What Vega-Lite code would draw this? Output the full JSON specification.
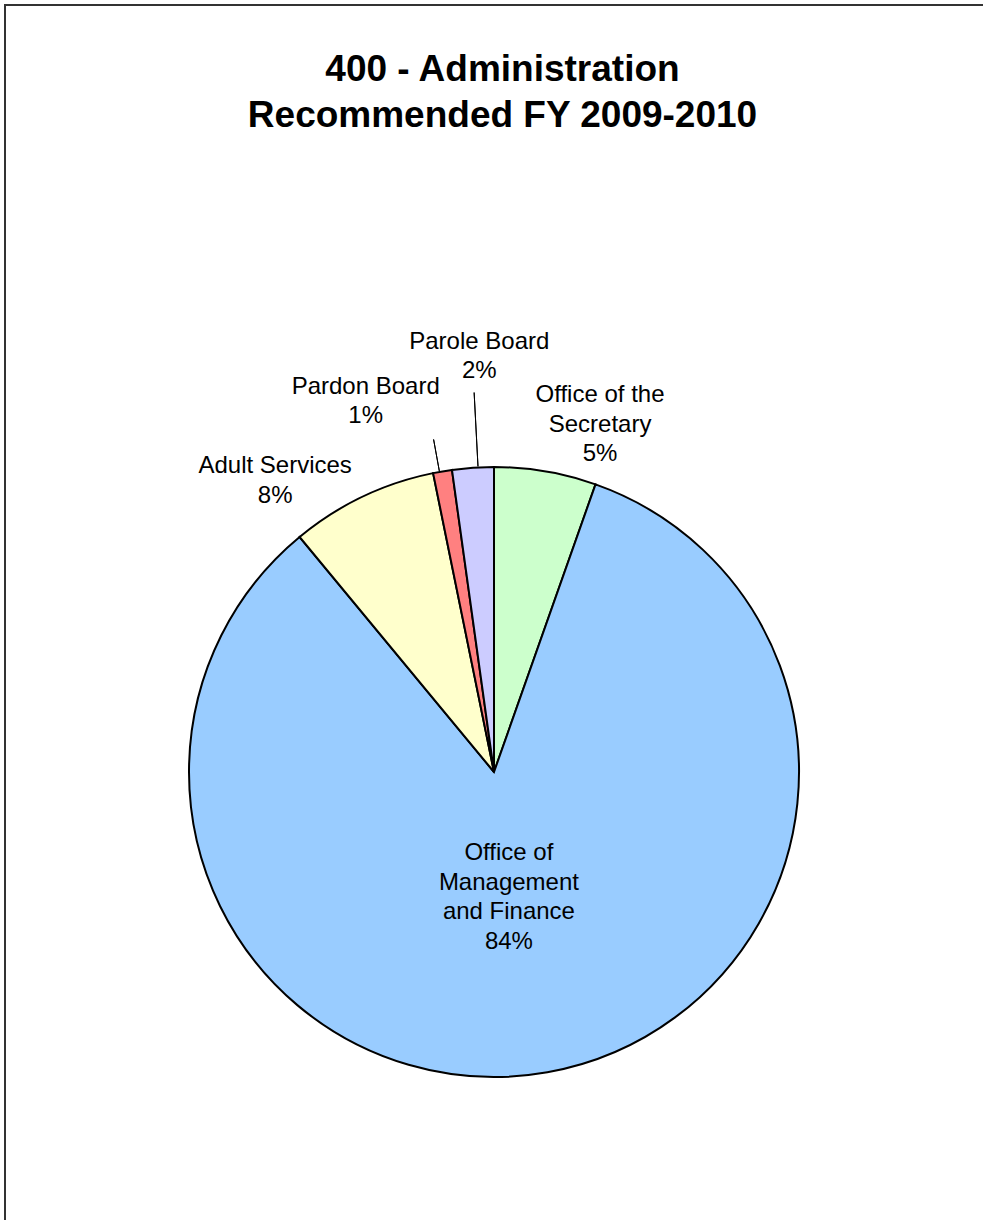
{
  "$schema": "https://vega.github.io/schema/vega-lite/v6.json",
  "width": 978,
  "height": 1534,
  "padding": {"left": 5, "top": 5, "right": 0, "bottom": 0},
  "autosize": {"type": "pad"},
  "background": "white",
  "config": {
    "view": {"stroke": "#333333", "strokeWidth": 2, "strokeDash": [978, 2512, 1534]},
    "style": {
      "view": {"stroke": "#333333", "strokeWidth": 2, "strokeDash": [978, 2512, 1534]},
      "cell": {"stroke": "#333333", "strokeWidth": 2, "strokeDash": [978, 2512, 1534]}
    },
    "text": {"font": "Liberation Sans", "fontSize": 24, "lineHeight": 29.5, "align": "center", "baseline": "middle", "color": "black", "lineBreak": "\n"}
  },
  "title": {
    "text": ["400 - Administration", "Recommended FY 2009-2010"],
    "font": "Liberation Sans",
    "fontSize": 37,
    "fontWeight": "bold",
    "lineHeight": 46,
    "anchor": "middle",
    "frame": "group",
    "offset": -130,
    "dx": 8.5,
    "color": "black"
  },
  "data": {
    "values": [
      {"name": "Office of the Secretary", "ord": 1, "value": 5.4, "label": "Office of the\nSecretary\n5%"},
      {"name": "Office of Management and Finance", "ord": 2, "value": 83.6, "label": "Office of\nManagement\nand Finance\n84%"},
      {"name": "Adult Services", "ord": 3, "value": 7.8, "label": "Adult Services\n8%"},
      {"name": "Pardon Board", "ord": 4, "value": 1.0, "label": "Pardon Board\n1%"},
      {"name": "Parole Board", "ord": 5, "value": 2.2, "label": "Parole Board\n2%"}
    ]
  },
  "transform": [
    {"stack": "value", "groupby": [], "sort": [{"field": "ord", "order": "ascending"}], "as": ["v0", "v1"]},
    {"calculate": "(datum.v0 + datum.v1) / 2", "as": "mid"}
  ],
  "layer": [
    {
      "mark": {"type": "arc", "outerRadius": 305, "stroke": "black", "strokeWidth": 2},
      "encoding": {
        "theta": {"field": "v0", "type": "quantitative", "scale": {"domain": [0, 100]}},
        "theta2": {"field": "v1"},
        "color": {
          "field": "name",
          "type": "nominal",
          "scale": {
            "domain": ["Office of the Secretary", "Office of Management and Finance", "Adult Services", "Pardon Board", "Parole Board"],
            "range": ["#CCFFCC", "#99CCFF", "#FFFFCC", "#FF8080", "#CCCCFF"]
          },
          "legend": null
        }
      }
    },
    {
      "transform": [{"filter": "datum.name === 'Parole Board'"}],
      "mark": {"type": "arc", "radius": 380, "radius2": 306, "stroke": "black", "strokeWidth": 1, "fill": null, "thetaOffset": 0.0168, "theta2Offset": 0.0168},
      "encoding": {
        "theta": {"field": "mid", "type": "quantitative", "scale": {"domain": [0, 100]}},
        "theta2": {"field": "mid"}
      }
    },
    {
      "transform": [{"filter": "datum.name === 'Pardon Board'"}],
      "mark": {"type": "arc", "radius": 338, "radius2": 306, "stroke": "black", "strokeWidth": 1, "fill": null, "thetaOffset": -0.01, "theta2Offset": -0.01},
      "encoding": {
        "theta": {"field": "mid", "type": "quantitative", "scale": {"domain": [0, 100]}},
        "theta2": {"field": "mid"}
      }
    },
    {
      "transform": [{"filter": "datum.name === 'Parole Board'"}],
      "mark": {"type": "text", "radius": 415.8, "dx": 14, "dy": -15.45},
      "encoding": {
        "theta": {"field": "mid", "type": "quantitative", "scale": {"domain": [0, 100]}},
        "text": {"field": "label"}
      }
    },
    {
      "transform": [{"filter": "datum.name === 'Pardon Board'"}],
      "mark": {"type": "text", "radius": 392.1, "dx": -62.1, "dy": 1.15},
      "encoding": {
        "theta": {"field": "mid", "type": "quantitative", "scale": {"domain": [0, 100]}},
        "text": {"field": "label"}
      }
    },
    {
      "transform": [{"filter": "datum.name === 'Adult Services'"}],
      "mark": {"type": "text", "radius": 364.2, "dx": -61.7, "dy": 22.65},
      "encoding": {
        "theta": {"field": "mid", "type": "quantitative", "scale": {"domain": [0, 100]}},
        "text": {"field": "label"}
      }
    },
    {
      "transform": [{"filter": "datum.name === 'Office of the Secretary'"}],
      "mark": {"type": "text", "radius": 363.3, "dx": 44.7, "dy": -18.9},
      "encoding": {
        "theta": {"field": "mid", "type": "quantitative", "scale": {"domain": [0, 100]}},
        "text": {"field": "label"}
      }
    },
    {
      "transform": [{"filter": "datum.name === 'Office of Management and Finance'"}],
      "mark": {"type": "text", "radius": 126.4, "dx": -7.2, "dy": -43.15},
      "encoding": {
        "theta": {"field": "mid", "type": "quantitative", "scale": {"domain": [0, 100]}},
        "text": {"field": "label"}
      }
    }
  ]
}
